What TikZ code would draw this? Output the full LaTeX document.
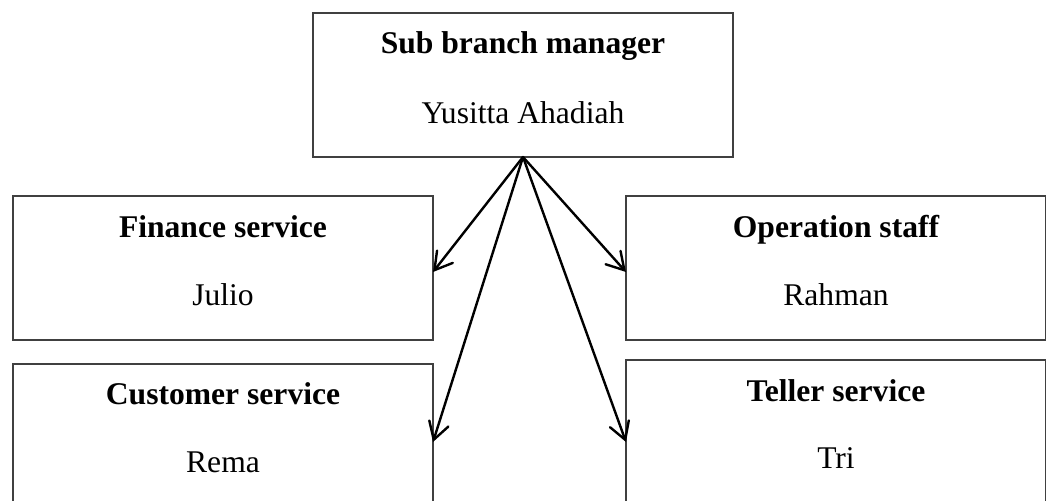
\documentclass[tikz,border=0pt]{standalone}
\usepackage{fontspec}
\setmainfont{Liberation Serif}
\usetikzlibrary{arrows.meta}

\begin{document}
\begin{tikzpicture}[x=0.5pt,y=-0.5pt]
\tikzset{
  orgbox/.style={rectangle,draw=black!75,line width=0.85pt,inner sep=0pt,outer sep=0pt},
  roletext/.style={anchor=base,inner sep=0pt,font=\fontsize{15.8}{19}\selectfont\bfseries},
  nametext/.style={anchor=base,inner sep=0pt,font=\fontsize{15.8}{19}\selectfont},
  orgedge/.style={draw=black,line width=1.2pt,line cap=round,line join=round},
  directed/.style={orgedge,-{Straight Barb[length=8.5pt,width=10pt,line cap=round]}}
}
\useasboundingbox (0,0) rectangle (1046,500);
\clip (0,0) rectangle (1046,500);
\node[orgbox,minimum width=210pt,minimum height=72pt] (n_mgr) at (523,85) {};
\node[orgbox,minimum width=210pt,minimum height=72pt] (n_fin) at (223,268) {};
\node[orgbox,minimum width=210pt,minimum height=72pt] (n_ops) at (836,268) {};
\node[orgbox,minimum width=210pt,minimum height=78pt] (n_cus) at (223,442) {};
\node[orgbox,minimum width=210pt,minimum height=82pt] (n_tel) at (836,442) {};
\node[roletext] (n_mgr_t) at (523,53) {Sub branch manager};
\node[nametext] (n_mgr_p) at (523,123) {Yusitta Ahadiah};
\node[roletext] (n_fin_t) at (223,237) {Finance service};
\node[nametext] (n_fin_p) at (223,305) {Julio};
\node[roletext] (n_ops_t) at (836,237) {Operation staff};
\node[nametext] (n_ops_p) at (836,305) {Rahman};
\node[roletext] (n_cus_t) at (223,404) {Customer service};
\node[nametext] (n_cus_p) at (223,472) {Rema};
\node[roletext] (n_tel_t) at (836,401) {Teller service};
\node[nametext] (n_tel_p) at (836,468) {Tri};
\draw[directed] (n_mgr.south) -- ([yshift=-2pt]n_fin.east);
\draw[directed] (n_mgr.south) -- ([yshift=-2pt]n_ops.west);
\draw[directed] (n_mgr.south) -- (n_cus.east);
\draw[directed] (n_mgr.south) -- (n_tel.west);
\end{tikzpicture}
\end{document}
